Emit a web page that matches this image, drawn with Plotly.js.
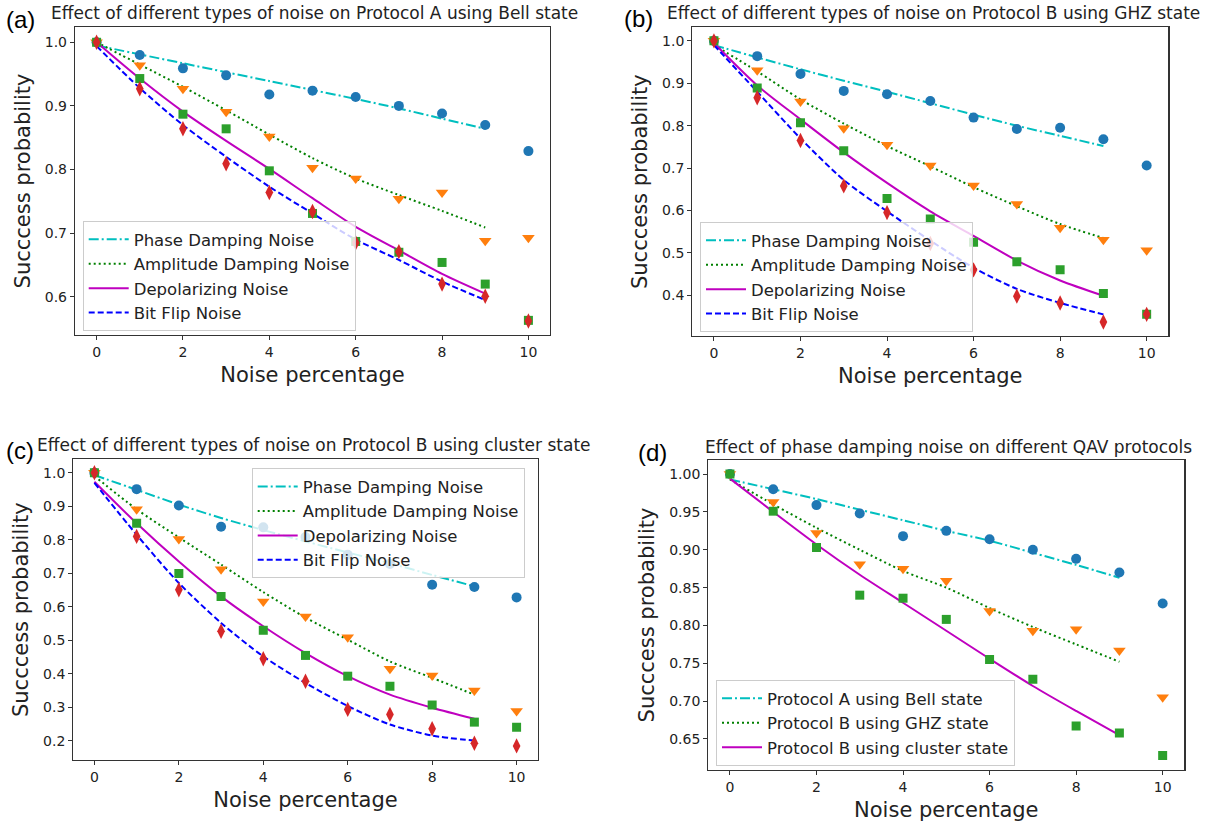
<!DOCTYPE html>
<html>
<head>
<meta charset="utf-8">
<script src="https://cdn.plot.ly/plotly-3.0.1.min.js"></script>
<style>html,body{margin:0;padding:0;background:#fff;}#chart{width:1207px;height:823px;}</style>
</head>
<body>
<div id="chart"></div>
<script>
// ---------- data ----------
const noisePct = [0, 1, 2, 3, 4, 5, 6, 7, 8, 9, 10];
const fitPct = [0, 1, 2, 3, 4, 5, 6, 7, 8, 9];
const xTicks = [0, 2, 4, 6, 8, 10];

const noiseNames = ["Phase Damping Noise", "Amplitude Damping Noise", "Depolarizing Noise", "Bit Flip Noise"];
const protocolNames = ["Protocol A using Bell state", "Protocol B using GHZ state", "Protocol B using cluster state"];

const panelTitles = [
  "Effect of different types of noise on Protocol A using Bell state",
  "Effect of different types of noise on Protocol B using GHZ state",
  "Effect of different types of noise on Protocol B using cluster state",
  "Effect of phase damping noise on different QAV protocols"
];
const panelLabels = ["(a)", "(b)", "(c)", "(d)"];
const xTitle = "Noise percentage";
const yTitle = "Succcess probability";

// (a) Protocol A, Bell state
const aPhasePts = [1.0, 0.980, 0.959, 0.948, 0.918, 0.924, 0.914, 0.900, 0.888, 0.870, 0.829];
const aAmpPts   = [1.0, 0.964, 0.927, 0.891, 0.852, 0.803, 0.786, 0.754, 0.764, 0.688, 0.693];
const aDepolPts = [1.0, 0.943, 0.887, 0.864, 0.798, 0.731, 0.687, 0.670, 0.654, 0.620, 0.563];
const aBitPts   = [1.0, 0.927, 0.864, 0.809, 0.764, 0.734, 0.685, 0.671, 0.620, 0.601, 0.562];
const aPhaseFit = [0.995, 0.981, 0.967, 0.953, 0.939, 0.925, 0.911, 0.896, 0.880, 0.864];
const aAmpFit   = [1.0, 0.965, 0.930, 0.893, 0.855, 0.818, 0.786, 0.760, 0.735, 0.709];
const aDepolFit = [1.0, 0.943, 0.891, 0.845, 0.801, 0.755, 0.710, 0.673, 0.636, 0.605];
const aBitFit   = [0.994, 0.928, 0.870, 0.820, 0.773, 0.731, 0.690, 0.658, 0.624, 0.595];

// (b) Protocol B, GHZ state
const bPhasePts = [1.0, 0.964, 0.922, 0.882, 0.874, 0.858, 0.819, 0.792, 0.795, 0.768, 0.706];
const bAmpPts   = [1.0, 0.931, 0.857, 0.794, 0.755, 0.706, 0.659, 0.615, 0.559, 0.531, 0.506];
const bDepolPts = [1.0, 0.889, 0.807, 0.741, 0.628, 0.580, 0.525, 0.479, 0.460, 0.404, 0.355];
const bBitPts   = [1.0, 0.866, 0.765, 0.658, 0.595, 0.522, 0.460, 0.398, 0.382, 0.337, 0.355];
const bPhaseFit = [0.990, 0.961, 0.933, 0.906, 0.880, 0.853, 0.826, 0.800, 0.776, 0.752];
const bAmpFit   = [0.990, 0.928, 0.862, 0.805, 0.752, 0.704, 0.655, 0.610, 0.568, 0.535];
const bDepolFit = [0.995, 0.895, 0.815, 0.737, 0.665, 0.598, 0.540, 0.482, 0.435, 0.399];
const bBitFit   = [0.990, 0.880, 0.770, 0.672, 0.598, 0.529, 0.465, 0.415, 0.382, 0.355];

// (c) Protocol B, cluster state
const cPhasePts = [1.0, 0.951, 0.902, 0.839, 0.837, 0.808, 0.755, 0.728, 0.666, 0.659, 0.628];
const cAmpPts   = [1.0, 0.891, 0.802, 0.712, 0.616, 0.571, 0.509, 0.415, 0.395, 0.350, 0.289];
const cDepolPts = [1.0, 0.849, 0.699, 0.631, 0.530, 0.455, 0.393, 0.363, 0.307, 0.256, 0.241];
const cBitPts   = [1.0, 0.810, 0.651, 0.527, 0.445, 0.378, 0.294, 0.279, 0.236, 0.193, 0.185];
const cPhaseFit = [0.993, 0.949, 0.905, 0.865, 0.829, 0.795, 0.762, 0.730, 0.695, 0.661];
const cAmpFit   = [0.990, 0.891, 0.807, 0.726, 0.644, 0.568, 0.502, 0.437, 0.388, 0.338];
const cDepolFit = [0.973, 0.849, 0.735, 0.631, 0.542, 0.462, 0.393, 0.338, 0.299, 0.266];
const cBitFit   = [0.970, 0.815, 0.671, 0.552, 0.452, 0.373, 0.304, 0.249, 0.216, 0.201];

// (d) phase damping on the three protocols
const dBellPts    = [1.0, 0.980, 0.959, 0.948, 0.918, 0.925, 0.914, 0.900, 0.888, 0.870, 0.829];
const dGhzPts     = [1.0, 0.963, 0.922, 0.881, 0.875, 0.859, 0.819, 0.793, 0.795, 0.767, 0.705];
const dClusterPts = [1.0, 0.951, 0.903, 0.840, 0.836, 0.808, 0.755, 0.729, 0.667, 0.658, 0.628];
const dBellFit    = [0.993, 0.980, 0.967, 0.953, 0.939, 0.925, 0.912, 0.896, 0.880, 0.863];
const dGhzFit     = [0.993, 0.960, 0.929, 0.900, 0.872, 0.850, 0.823, 0.798, 0.775, 0.752];
const dClusterFit = [0.994, 0.950, 0.907, 0.867, 0.830, 0.793, 0.756, 0.720, 0.687, 0.655];

// ---------- styles ----------
const FONT = "DejaVu Sans, sans-serif";
const lineStyles = [
  {color: "#00BFBF", dash: "10px,3px,2px,3px"},
  {color: "#008000", dash: "2px,3px"},
  {color: "#BF00BF", dash: "solid"},
  {color: "#0000FF", dash: "6px,3px"}
];
const markerStyles = [
  {color: "#1f77b4", symbol: "circle", size: 10},
  {color: "#ff7f0e", symbol: "triangle-down", size: 11},
  {color: "#2ca02c", symbol: "square", size: 9},
  {color: "#d62728", symbol: "diamond-tall", size: 11}
];

const W = 1207, H = 823;
const px = v => v / W;
const py = v => 1 - v / H;

// panel geometry (pixels)
const panels = [
  {x0: 75,    x1: 550,    y0: 27,    y1: 335, yr: [0.540, 1.024], dt: 0.1,  fmt: ".1f",
   fits: [aPhaseFit, aAmpFit, aDepolFit, aBitFit], pts: [aPhasePts, aAmpPts, aDepolPts, aBitPts], names: noiseNames,
   leg: [82.7, 221], titleX: 49, titleY: 13, labX: 4, labY: 20},
  {x0: 692.3, x1: 1168.3, y0: 27.3,  y1: 336, yr: [0.304, 1.032], dt: 0.1,  fmt: ".1f",
   fits: [bPhaseFit, bAmpFit, bDepolFit, bBitFit], pts: [bPhasePts, bAmpPts, bDepolPts, bBitPts], names: noiseNames,
   leg: [700, 222], titleX: 665, titleY: 13, labX: 622, labY: 18},
  {x0: 73.3,  x1: 537.7,  y0: 459.3, y1: 760, yr: [0.143, 1.040], dt: 0.1,  fmt: ".1f",
   fits: [cPhaseFit, cAmpFit, cDepolFit, cBitFit], pts: [cPhasePts, cAmpPts, cDepolPts, cBitPts], names: noiseNames,
   leg: [251.7, 468.3], titleX: 35, titleY: 445, labX: 4, labY: 450},
  {x0: 708.3, x1: 1184.3, y0: 460,   y1: 770, yr: [0.609, 1.0186], dt: 0.05, fmt: ".2f",
   fits: [dBellFit, dGhzFit, dClusterFit], pts: [dBellPts, dGhzPts, dClusterPts], names: protocolNames,
   leg: [716, 680], titleX: 703, titleY: 447, labX: 636, labY: 452}
];

const data = [];
const layout = {
  width: W, height: H, autosize: false,
  margin: {l: 0, r: 0, t: 0, b: 0},
  paper_bgcolor: "#ffffff", plot_bgcolor: "#ffffff",
  font: {family: FONT, color: "#222"},
  annotations: [],
  showlegend: true
};

panels.forEach((p, i) => {
  const n = i === 0 ? "" : String(i + 1);
  const xa = "x" + n, ya = "y" + n;
  const legName = i === 0 ? "legend" : "legend" + (i + 1);

  p.fits.forEach((f, k) => {
    data.push({
      type: "scatter", mode: "lines", x: fitPct, y: f, xaxis: xa, yaxis: ya,
      name: p.names[k], legend: legName,
      line: {color: lineStyles[k].color, dash: lineStyles[k].dash, width: 2, shape: "spline", smoothing: 0.8},
      hoverinfo: "skip"
    });
  });
  p.pts.forEach((s, k) => {
    data.push({
      type: "scatter", mode: "markers", x: noisePct, y: s, xaxis: xa, yaxis: ya,
      showlegend: false, legend: legName,
      marker: {color: markerStyles[k].color, symbol: markerStyles[k].symbol, size: markerStyles[k].size, line: {width: 0}}
    });
  });

  const axCommon = {
    showline: true, mirror: true, linecolor: "#333", linewidth: 1.2,
    showgrid: false, zeroline: false, ticks: "outside", ticklen: 4, tickwidth: 1, tickcolor: "#333",
    tickfont: {family: FONT, size: 14, color: "#222"}, automargin: false, fixedrange: true
  };
  layout["xaxis" + n] = Object.assign({}, axCommon, {
    domain: [px(p.x0), px(p.x1)], anchor: ya, range: [-0.5, 10.5],
    tickmode: "array", tickvals: xTicks, ticktext: xTicks.map(String),
    title: {text: xTitle, font: {family: FONT, size: 21, color: "#222"}, standoff: 8}
  });
  layout["yaxis" + n] = Object.assign({}, axCommon, {
    domain: [py(p.y1), py(p.y0)], anchor: xa, range: p.yr,
    tickmode: "linear", tick0: 0, dtick: p.dt, tickformat: p.fmt,
    title: {text: yTitle, font: {family: FONT, size: 21, color: "#222"}, standoff: 8}
  });
  layout[legName] = {
    x: px(p.leg[0]), y: py(p.leg[1]), xanchor: "left", yanchor: "top",
    xref: "paper", yref: "paper",
    bgcolor: "rgba(255,255,255,0.8)", bordercolor: "#cccccc", borderwidth: 1,
    font: {family: FONT, size: 16.5, color: "#222"}, tracegroupgap: 0, itemwidth: 40
  };
  layout.annotations.push({
    text: panelTitles[i], xref: "paper", yref: "paper", x: px(p.titleX), y: py(p.titleY),
    xanchor: "left", yanchor: "middle", showarrow: false, font: {family: FONT, size: 17, color: "#222"}
  });
  layout.annotations.push({
    text: panelLabels[i], xref: "paper", yref: "paper", x: px(p.labX), y: py(p.labY),
    xanchor: "left", yanchor: "middle", showarrow: false, font: {family: "Liberation Sans, Arial, sans-serif", size: 24, color: "#000"}
  });
});

Plotly.newPlot("chart", data, layout, {displayModeBar: false, staticPlot: true});
</script>
</body>
</html>
